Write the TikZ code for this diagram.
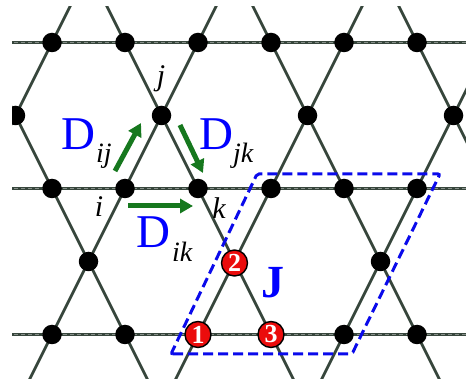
\documentclass[tikz,border=0pt]{standalone}
\usepackage{fontspec}
\setmainfont{Liberation Serif}
\usetikzlibrary{arrows.meta}
\definecolor{latt}{RGB}{55,70,60}
\definecolor{dgreen}{RGB}{22,120,30}
\definecolor{dblue}{RGB}{10,10,235}
\definecolor{sred}{RGB}{235,12,12}
\begin{document}
\begin{tikzpicture}[x=1pt,y=-1pt,
 site/.style={circle,fill=black,inner sep=0,minimum size=19.5pt},
 spin/.style={circle,fill=sred,draw=black,line width=1.4pt,inner sep=0,minimum size=26pt,text=white,font=\fontsize{26}{26}\selectfont\bfseries},
 bond/.style={latt,line width=2.7pt},
 hbond/.style={latt,line width=3.8pt},
 hdash/.style={white!40!latt,line width=0.45pt,dash pattern=on 4pt off 3pt},
 dm/.style={dgreen,line width=5pt,-{Triangle[length=13pt,width=14pt]}},
 lab/.style={font=\fontsize{30}{30}\selectfont\itshape,inner sep=0,anchor=base},
 bigD/.style={text=blue,font=\fontsize{47}{47}\selectfont,inner sep=0,anchor=base west},
 sub/.style={font=\fontsize{28}{28}\selectfont\itshape,inner sep=0,anchor=base west},
 cell/.style={dblue,line width=3pt,dash pattern=on 10pt off 5pt,rounded corners=2pt}
]
\useasboundingbox (0,0) rectangle (466,379);
\begin{scope}
\clip (12,7) rectangle (466,379);
\foreach \c in {-167,-21,125,271,417,563} \draw[bond] (\c-41.25,-40) -- (\c+188.75,420);
\foreach \c in {-94,52,198,344,490,636} \draw[bond] (\c+41.25,-40) -- (\c-188.75,420);
\foreach \yy in {42.5,188.5,334.5} {
  \draw[hbond] (0,\yy) -- (466,\yy);
  \draw[hdash] (0,\yy) -- (466,\yy);
}
\foreach \x [count=\n] in {52,125,198,271,344,417} \node[site] (a\n) at (\x,42.5) {};
\foreach \x [count=\n] in {15.5,161.5,307.5,453.5} \node[site] (b\n) at (\x,115.5) {};
\foreach \x [count=\n] in {52,125,198,271,344,417} \node[site] (c\n) at (\x,188.5) {};
\node[site] (d1) at (88.5,261.5) {};
\node[site] (d3) at (380.5,261.5) {};
\foreach \x [count=\n] in {52,125,344,417} \node[site] (e\n) at (\x,334.5) {};
\end{scope}
% unit cell
\draw[cell] (171,354) -- (352,354) -- (440,174) -- (257,174) -- cycle;
% DM arrows
\coordinate (ij0) at (115,171); \coordinate (ij1) at (141,123);
\coordinate (jk0) at (180,125); \coordinate (jk1) at (203,173);
\coordinate (ik0) at (128,206); \coordinate (ik1) at (193,206);
\draw[dm] (ij0) -- (ij1);
\draw[dm] (jk0) -- (jk1);
\draw[dm] (ik0) -- (ik1);
% labels
\node[lab] (li) at (99,217) {i};
\node[lab] (lj) at (161,86) {j};
\node[lab] (lk) at (219,219) {k};
\node[bigD] (Dij) at (61,150) {D};
\node[sub] (sij) at (96,163) {ij};
\node[bigD] (Djk) at (199,150) {D};
\node[sub] (sjk) at (233,163) {jk};
\node[bigD] (Dik) at (136,248) {D};
\node[sub] (sik) at (172,262) {ik};
\node[text=blue,font=\fontsize{46}{46}\selectfont\bfseries,inner sep=0,anchor=base] (J) at (273,298) {J};
% spins
\node[spin] (s1) at (198,334.5) {1};
\node[spin] (s2) at (234.5,263) {2};
\node[spin] (s3) at (271,334.5) {3};
\end{tikzpicture}
\end{document}
